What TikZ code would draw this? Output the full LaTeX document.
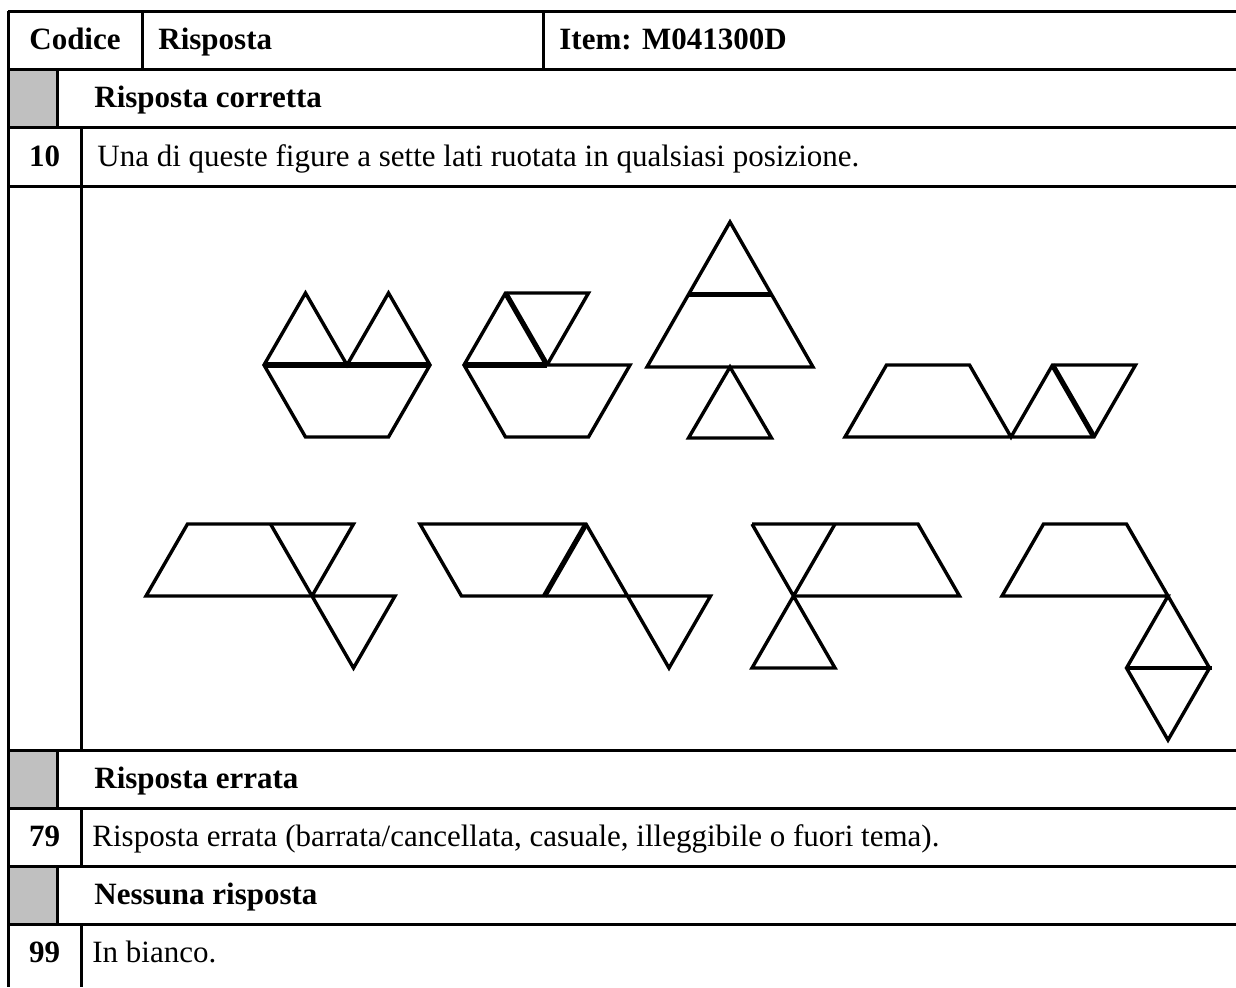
\documentclass[tikz,border=0pt]{standalone}
\usepackage{fontspec}
\setmainfont{Liberation Serif}
\definecolor{cellgray}{RGB}{192,192,192}
\begin{document}
\begin{tikzpicture}[x=0.5pt,y=-0.5pt,font=\fontsize{15.5}{18}\selectfont,
	tab/.style={line width=1.5pt},
	fig/.style={line width=1.7pt,line join=miter},
	seam/.style={line width=2.6pt},
	lbl/.style={font=\fontsize{15.5}{18}\selectfont\bfseries,anchor=base west,inner sep=0pt},
	code/.style={font=\fontsize{15.5}{18}\selectfont\bfseries,anchor=base,inner sep=0pt},
	txt/.style={anchor=base west,inner sep=0pt}]
		\useasboundingbox (0,0) rectangle (1236,987);
		\clip (0,0) rectangle (1236,987);
		% grey cells
		\foreach \ya/\yb in {69/127,750/808,866/924}
		\fill[cellgray] (8,\ya) rectangle (57,\yb);
		% rules
		\foreach \y in {11,69,127,186,750,808,866,924}
		\draw[tab] (8,\y)--(1236,\y);
		\draw[tab] (8,11)--(8,987);
		\draw[tab] (142,11)--(142,69) (543,11)--(543,69);
		\foreach \ya/\yb in {69/127,750/808,866/924}
		\draw[tab] (57,\ya)--(57,\yb);
		\foreach \ya/\yb in {127/750,808/866,924/987}
		\draw[tab] (81,\ya)--(81,\yb);
		% texts
		\node[code] (codice) at (75,49) {Codice};
		\node[lbl] (risposta) at (158,49) {Risposta};
		\node[lbl] (item) at (559,49) {Item: M041300D};
		\node[lbl] (corretta) at (94,107) {Risposta corretta};
		\node[code] (c10) at (44.5,166) {10};
		\node[txt] (t10) at (97,166) {Una di queste figure a sette lati ruotata in qualsiasi posizione.};
		\node[lbl] (errata) at (94,788) {Risposta errata};
		\node[code] (c79) at (44.5,846) {79};
		\node[txt] (t79) at (92,846) {Risposta errata (barrata/cancellata, casuale, illeggibile o fuori tema).};
		\node[lbl] (nessuna) at (94,904) {Nessuna risposta};
		\node[code] (c99) at (44.5,962) {99};
		\node[txt] (t99) at (92,962) {In bianco.};
		% first row of figures
		\draw[fig] (264,365)--(305.5,293)--(347,365)--(388.5,293)--(430,365)--(388.5,437)--(305.5,437)--cycle;
		\draw[seam] (264,365)--(430,365);
		\draw[fig] (464,365)--(505.5,293)--(588.5,293)--(547,365)--(630,365)--(588.5,437)--(505.5,437)--cycle;
		\draw[seam] (464,365)--(547,365);
		\draw[seam] (505.5,293)--(547,365);
		\draw[fig] (730,222)--(813,367)--(647,367)--cycle;
		\draw[seam] (688.5,294.5)--(771.5,294.5);
		\draw[fig] (730,367)--(771.5,438)--(688.5,438)--cycle;
		\draw[fig] (845,437)--(886.5,365)--(969.5,365)--(1011,437)--(1052.5,365)--(1135.5,365)--(1094,437)--cycle;
		\draw[seam] (1052.5,365)--(1094,437);
		% second row of figures
		\draw[fig] (146,596)--(187.5,524)--(353.5,524)--(312,596)--(395,596)--(353.5,668)--(312,596)--cycle;
		\draw[fig] (270.5,524)--(312,596);
		\draw[fig] (420,524)--(586,524)--(669,668)--(710.5,596)--(461.5,596)--cycle;
		\draw[seam] (544.5,596)--(586,524);
		\draw[fig] (752,524)--(835,668)--(752,668)--(835,524);
		\draw[fig] (752,524)--(918,524)--(959.5,596)--(793.5,596);
		\draw[fig] (1002,596)--(1043.5,524)--(1126.5,524)--(1209.5,668)--(1168,740)--(1126.5,668)--(1168,596)--cycle;
		\draw[fig] (1126.5,668)--(1211.5,668);
		\end{tikzpicture}
\end{document}
